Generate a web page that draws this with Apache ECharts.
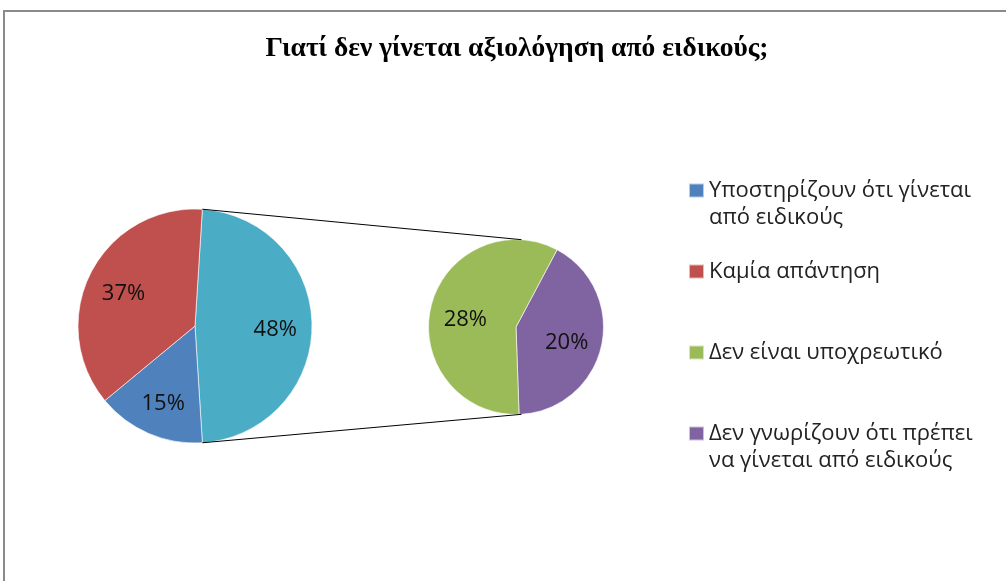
<!DOCTYPE html>
<html>
<head>
<meta charset="utf-8">
<script src="https://cdn.jsdelivr.net/npm/echarts@6/dist/echarts.min.js"></script>
<style>
html,body{margin:0;padding:0;background:#fff;}
#chart{width:1006px;height:581px;}
</style>
</head>
<body>
<div id="chart"></div>
<script>
// ---- data ----
const titleText = 'Γιατί δεν γίνεται αξιολόγηση από ειδικούς;';
const mainCategories = ['Υποστηρίζουν ότι γίνεται\nαπό ειδικούς', 'Καμία απάντηση'];
const mainValues = [15, 37];
const subCategories = ['Δεν είναι υποχρεωτικό', 'Δεν γνωρίζουν ότι πρέπει\nνα γίνεται από ειδικούς'];
const subValues = [28, 20];
const otherName = 'Άλλο';

// ---- layout / style ----
const mainColors = ['#4F81BD', '#C0504D'];
const otherColor = '#4BACC6';
const subColors = ['#9BBB59', '#8064A2'];
const mainC = [195, 326], mainR = 117;
const subC = [516, 327], subR = 87.5;
const subStart = 62;
const LH = 27;

const sum = a => a.reduce((s, v) => s + v, 0);
const otherVal = sum(subValues);
const total = sum(mainValues) + otherVal;
const share = otherVal / total;
const mainStart = share * 180;

const mainData = [{ name: otherName, value: otherVal, itemStyle: { color: otherColor } }]
  .concat(mainCategories.map((n, i) => ({ name: n, value: mainValues[i], itemStyle: { color: mainColors[i] } })));
// secondary pie: purple first (right side), then green
const subOrder = [1, 0];
const subData = subOrder.map(i => ({ name: subCategories[i], value: subValues[i], itemStyle: { color: subColors[i] } }));

const labelStyle = {
  show: true, position: 'inside', formatter: p => p.value + '%', offset: [0, 4],
  color: '#111', fontFamily: 'Open Sans', fontSize: 22
};

// connector lines computed from the "other" slice geometry
const a = share * Math.PI;
const p1 = [mainC[0] + mainR * Math.cos(a), mainC[1] - mainR * Math.sin(a)];
const p2 = [mainC[0] + mainR * Math.cos(a), mainC[1] + mainR * Math.sin(a)];
const q1 = [subC[0] + subR * Math.cos(a), subC[1] - subR * Math.sin(a)];
const q2 = [subC[0] + subR * Math.cos(a), subC[1] + subR * Math.sin(a)];

const legendNames = mainCategories.concat(subCategories);

const chart = echarts.init(document.getElementById('chart'));
chart.setOption({
  animation: false,
  backgroundColor: '#fff',
  title: {
    text: titleText, left: 512, top: 30, textAlign: 'center',
    textStyle: { fontFamily: 'Liberation Serif', fontWeight: 'bold', fontSize: 27.5, color: '#000' }
  },
  legend: {
    orient: 'vertical', left: 688, top: 150, padding: 0, itemGap: 0,
    itemWidth: 15, itemHeight: 14, icon: 'rect', selectedMode: false,
    formatter: n => n.indexOf('\n') >= 0 ? ' \n' + n : ' \n' + n + '\n ',
    textStyle: { fontFamily: 'Open Sans', fontSize: 22, color: '#222', lineHeight: LH },
    data: legendNames
  },
  graphic: [
    { type: 'polyline', shape: { points: [[4, 600], [4, 11], [1020, 11]] }, style: { stroke: '#8a8a8a', lineWidth: 2, fill: null }, silent: true },
    { type: 'line', shape: { x1: p1[0], y1: p1[1], x2: q1[0], y2: q1[1] }, style: { stroke: '#000', lineWidth: 1 }, z: 10, silent: true },
    { type: 'line', shape: { x1: p2[0], y1: p2[1], x2: q2[0], y2: q2[1] }, style: { stroke: '#000', lineWidth: 1 }, z: 10, silent: true }
  ],
  series: [
    {
      type: 'pie', center: mainC, radius: mainR, startAngle: mainStart, clockwise: true,
      data: mainData, label: { show: false }, labelLine: { show: false },
      itemStyle: { borderColor: 'rgba(255,255,255,0.6)', borderWidth: 1 }, emphasis: { disabled: true }
    },
    {
      type: 'pie', center: subC, radius: subR, startAngle: subStart, clockwise: true,
      data: subData, label: { show: false }, labelLine: { show: false },
      itemStyle: { borderColor: 'rgba(255,255,255,0.6)', borderWidth: 1 }, emphasis: { disabled: true }
    },
    {
      type: 'pie', center: mainC, radius: [mainR * 0.32, mainR], startAngle: mainStart, silent: true,
      data: mainData.map(d => ({ value: d.value })), label: labelStyle, labelLine: { show: false },
      itemStyle: { color: 'rgba(0,0,0,0)' }, emphasis: { disabled: true }, z: 5
    },
    {
      type: 'pie', center: subC, radius: [subR * 0.12, subR], startAngle: subStart, silent: true,
      data: subData.map(d => ({ value: d.value })), label: labelStyle, labelLine: { show: false },
      itemStyle: { color: 'rgba(0,0,0,0)' }, emphasis: { disabled: true }, z: 5
    }
  ]
});
</script>
</body>
</html>
